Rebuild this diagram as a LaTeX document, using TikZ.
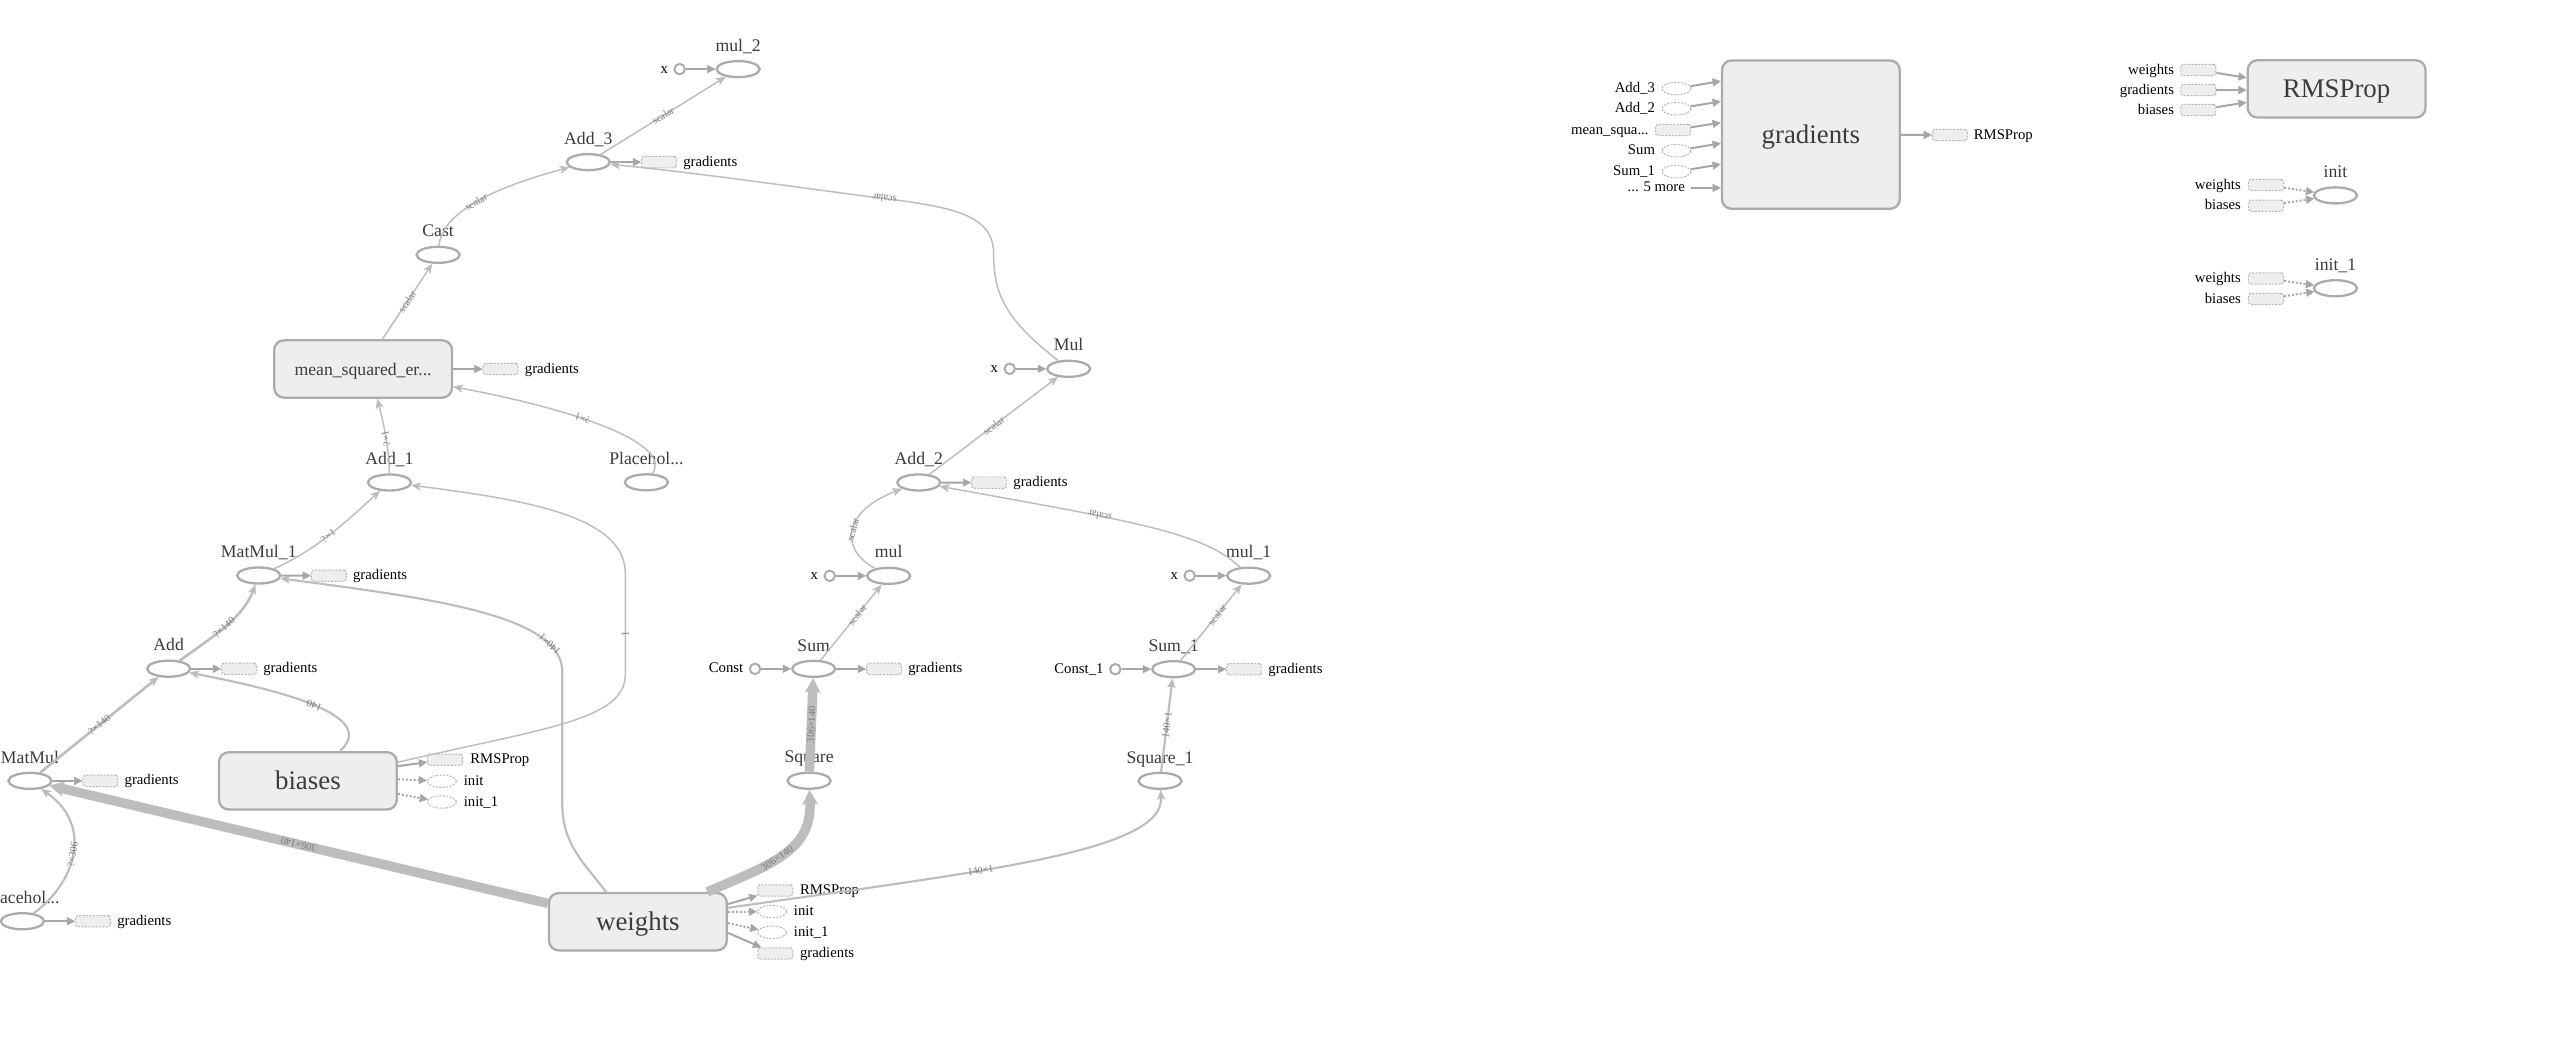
\documentclass[tikz,border=0pt]{standalone}
\usepackage{fontspec}
\setmainfont{Liberation Serif}
\usetikzlibrary{shapes.geometric,arrows.meta,calc}
\definecolor{edgecol}{HTML}{BDBDBD}
\definecolor{ringc}{HTML}{ABABAB}
\definecolor{fillc}{HTML}{EEEEEE}
\definecolor{annc}{HTML}{A6A6A6}
\definecolor{labc}{HTML}{3C3C3C}
\definecolor{elabc}{HTML}{7A7A7A}
\definecolor{dotc}{HTML}{B4B4B4}
\tikzset{
 op/.style={ellipse, draw=ringc, line width=1.4pt, minimum width=26.3pt, minimum height=9.8pt, inner sep=0pt},
 oplab/.style={anchor=base, inner sep=0pt, text=labc, font=\fontsize{10.8}{12}\selectfont},
 constc/.style={circle, draw=ringc, line width=1.2pt, minimum size=6.4pt, inner sep=0pt},
 annbox/.style={rectangle, rounded corners=1.2pt, draw=dotc, dash pattern=on 1.2pt off 0.9pt, line width=0.6pt, fill=fillc, minimum width=21.4pt, minimum height=6.9pt, inner sep=0pt},
 annell/.style={ellipse, draw=dotc, dash pattern=on 1.2pt off 0.9pt, line width=0.6pt, minimum width=17.8pt, minimum height=7.6pt, inner sep=0pt},
 anntxt/.style={inner sep=0pt, text=black, font=\fontsize{9}{10}\selectfont, text height=6.3pt, text depth=1.9pt},
 bigbox/.style={rectangle, rounded corners=6pt, draw=ringc, line width=1.4pt, fill=fillc, minimum width=108.6pt, minimum height=35pt, inner sep=0pt, text=labc, font=\fontsize{16.4}{18}\selectfont, text height=12pt, text depth=1.6pt},
 edge/.style={draw=edgecol, line width=0.9pt, -{Stealth[length=6pt,width=5pt,inset=1.5pt,line width=0.3pt]}},
 ewide/.style={edge, line width=1.3pt},
 ewider/.style={edge, line width=1.6pt},
 ethick/.style={draw=edgecol, line width=5.8pt, -{Stealth[length=9pt,width=9.5pt,inset=2pt,line width=0.3pt]}},
 ann/.style={draw=annc, line width=1.2pt, -{Triangle[length=5pt,width=5pt,line width=0.3pt]}},
 anndot/.style={ann, dash pattern=on 1.2pt off 1.2pt},
 elab/.style={sloped, allow upside down, inner sep=0.5pt, text=elabc, font=\fontsize{6.2}{6.2}\selectfont},
}
\newcommand{\opnode}[4]{%
 \node[op] (#1) at (#2,#3) {};
 \node[oplab] (#1-l) at (#2,#3-10.9) {#4};}
\newcommand{\constin}[5]{%
 \node[constc] (#1) at (#2,#3) {};
 \node[anntxt, anchor=base east] (#1-t) at (#2-7,#3+2.5) {#4};
 \draw[ann] (#1) -- (#5);}
\newcommand{\gradout}[4]{%
 \node[annbox] (#2) at (#3,#4) {};
 \node[anntxt, anchor=base west] (#2-t) at (#3+14.6,#4+2.5) {gradients};
 \draw[ann] (#1) -- (#2);}
\begin{document}
\begin{tikzpicture}[x=1pt,y=-1pt]
\fill[white] (0,0) rectangle (1568,641.7);
\useasboundingbox (0,0) rectangle (1568,641.7);

% ops
\opnode{mul2}{450.7}{42.2}{mul\_2}
\opnode{add3}{359.2}{99}{Add\_3}
\opnode{cast}{267.5}{155.6}{Cast}
\opnode{mulb}{652.5}{225.2}{Mul}
\opnode{add1}{237.8}{294.6}{Add\_1}
\opnode{pha}{394.7}{294.5}{Placehol...}
\opnode{add2}{561}{294.6}{Add\_2}
\opnode{mm1}{158}{351.4}{MatMul\_1}
\opnode{mula}{542.6}{351.6}{mul}
\opnode{mul1}{762.4}{351.5}{mul\_1}
\opnode{add}{103}{408.3}{Add}
\opnode{sum}{496.8}{408.4}{Sum}
\opnode{sum1}{716.6}{408.6}{Sum\_1}
\opnode{mm}{18.3}{476.8}{MatMul}
\opnode{sq}{494}{476.7}{Square}
\opnode{sq1}{708.3}{476.8}{Square\_1}
\opnode{phb}{13.7}{562.5}{Placehol...}
\opnode{init}{1426}{119.3}{init}
\opnode{initb}{1426}{176}{init\_1}

% big boxes
\node[bigbox, font=\fontsize{10.8}{12}\selectfont, text height=8.5pt, text depth=1.1pt] (mse) at (221.7,225.3) {mean\_squared\_er...};
\node[bigbox] (biases) at (188,476.8) {biases};
\node[bigbox] (weights) at (389.5,562.8) {weights};
\node[bigbox, minimum height=90.6pt] (grad) at (1105.7,82.2) {gradients};
\node[bigbox] (rms) at (1426.7,54.3) {RMSProp};

% constants
\constin{xa}{415}{42.2}{x}{mul2}
\constin{xb}{616.5}{225.2}{x}{mulb}
\constin{xc}{506.6}{351.6}{x}{mula}
\constin{xd}{726.4}{351.5}{x}{mul1}
\constin{cst}{461}{408.4}{Const}{sum}
\constin{cstb}{681}{408.6}{Const\_1}{sum1}

% gradients annotations
\gradout{add3}{ga}{402.4}{99}
\gradout{mse}{gb}{305.7}{225.3}
\gradout{add2}{gc}{604}{294.7}
\gradout{mm1}{gd}{200.8}{351.5}
\gradout{add}{ge}{146}{408.3}
\gradout{sum}{gf}{539.8}{408.4}
\gradout{sum1}{gg}{759.7}{408.6}
\gradout{mm}{gh}{61.3}{476.8}
\gradout{phb}{gi}{56.8}{562.5}

% biases annotations
\node[annbox] (bR) at (271.8,463.9) {};
\node[anntxt, anchor=base west] (bR-t) at (287,466.4) {RMSProp};
\node[annell] (bI) at (269.8,477) {};
\node[anntxt, anchor=base west] (bI-t) at (283,479.5) {init};
\node[annell] (bJ) at (269.8,489.7) {};
\node[anntxt, anchor=base west] (bJ-t) at (283,492.2) {init\_1};
\draw[ann] ($(biases.east)+(0,-9)$) -- (bR);
\draw[anndot] ($(biases.east)+(0,-1)$) -- (bI);
\draw[anndot] ($(biases.east)+(0,8)$) -- (bJ);

% weights annotations
\node[annbox] (wR) at (473.4,543.7) {};
\node[anntxt, anchor=base west] (wR-t) at (488.3,546.2) {RMSProp};
\node[annell] (wI) at (471.4,556.6) {};
\node[anntxt, anchor=base west] (wI-t) at (484.6,559.1) {init};
\node[annell] (wJ) at (471.4,569.3) {};
\node[anntxt, anchor=base west] (wJ-t) at (484.6,571.8) {init\_1};
\node[annbox] (wG) at (473.4,582.2) {};
\node[anntxt, anchor=base west] (wG-t) at (488.3,584.7) {gradients};
\draw[ann] ($(weights.east)+(0,-10.8)$) -- (wR);
\draw[anndot] ($(weights.east)+(0,-6)$) -- (wI);
\draw[anndot] ($(weights.east)+(0,0.9)$) -- (wJ);
\draw[ann] ($(weights.east)+(0,6.8)$) -- (wG);

% gradients block inputs / output
\node[annell] (gA3) at (1023.6,54.1) {};
\node[anntxt, anchor=base east] (gA3-t) at (1010.7,56.6) {Add\_3};
\node[annell] (gA2) at (1023.6,66.4) {};
\node[anntxt, anchor=base east] (gA2-t) at (1010.7,68.9) {Add\_2};
\node[annbox] (gM) at (1021.6,79.4) {};
\node[anntxt, anchor=base east] (gM-t) at (1006.8,81.9) {mean\_squa...};
\node[annell] (gS) at (1023.6,92) {};
\node[anntxt, anchor=base east] (gS-t) at (1010.7,94.5) {Sum};
\node[annell] (gS1) at (1023.6,104.8) {};
\node[anntxt, anchor=base east] (gS1-t) at (1010.7,107.3) {Sum\_1};
\node[anntxt, anchor=base east] (g5) at (1029,116.9) {... 5 more};
\draw[ann] (gA3) -- ($(grad.west)+(0,-32.7)$);
\draw[ann] (gA2) -- ($(grad.west)+(0,-20.3)$);
\draw[ann] (gM) -- ($(grad.west)+(0,-7.3)$);
\draw[ann] (gS) -- ($(grad.west)+(0,5.3)$);
\draw[ann] (gS1) -- ($(grad.west)+(0,18.1)$);
\draw[ann] ($(g5.east)+(3.5,0)$) -- ($(grad.west)+(0,32.5)$);
\node[annbox] (gR) at (1190.6,82.4) {};
\node[anntxt, anchor=base west] (gR-t) at (1205,84.9) {RMSProp};
\draw[ann] (grad) -- (gR);

% RMSProp block inputs
\node[annbox] (rW) at (1342.3,42.7) {};
\node[anntxt, anchor=base east] (rW-t) at (1327.6,45.2) {weights};
\node[annbox] (rG) at (1342.3,55) {};
\node[anntxt, anchor=base east] (rG-t) at (1327.6,57.5) {gradients};
\node[annbox] (rB) at (1342.3,67.2) {};
\node[anntxt, anchor=base east] (rB-t) at (1327.6,69.7) {biases};
\draw[ann] (rW) -- ($(rms.west)+(0,-6.8)$);
\draw[ann] (rG) -- ($(rms.west)+(0,0.7)$);
\draw[ann] (rB) -- ($(rms.west)+(0,8.2)$);

% init inputs
\node[annbox] (iW) at (1383.6,113) {};
\node[anntxt, anchor=base east] (iW-t) at (1368.4,115.5) {weights};
\node[annbox] (iB) at (1383.6,125.6) {};
\node[anntxt, anchor=base east] (iB-t) at (1368.4,128.1) {biases};
\draw[anndot] (iW) -- (init);
\draw[anndot] (iB) -- (init);
\node[annbox] (jW) at (1383.6,170) {};
\node[anntxt, anchor=base east] (jW-t) at (1368.4,172.5) {weights};
\node[annbox] (jB) at (1383.6,182.6) {};
\node[anntxt, anchor=base east] (jB-t) at (1368.4,185.1) {biases};
\draw[anndot] (jW) -- (initb);
\draw[anndot] (jB) -- (initb);

% main edges
\draw[edge] (add3) -- node[elab]{scalar} (mul2);
\draw[edge] (cast) .. controls (270,130) and (300,115) .. node[elab,pos=0.5]{scalar} (add3);
\draw[edge] ($(mse.north)+(11.8,0)$) -- node[elab]{scalar} (cast);
\draw[edge] (add1) .. controls (237.5,272) and (234,258) .. node[elab,pos=0.45]{?×1} ($(mse.south)+(8.7,0)$);
\draw[edge] (pha) .. controls (410,272) and (360,252) .. node[elab,pos=0.62]{?×1} ($(mse.east)+(0,10.8)$);
\draw[edge] (add2) -- node[elab]{scalar} (mulb);
\draw[edge] (mulb) .. controls (614,195) and (606.7,180) .. (606.7,155)
  .. controls (606.7,130) and (580,126) .. node[elab,pos=0.93]{scalar} (530,120)
  .. controls (470,112) and (420,105) .. (add3);
\draw[edge] (mula) .. controls (512,335) and (515,312) .. node[elab,pos=0.5]{scalar} (add2);
\draw[edge] (mul1) .. controls (735,325) and (690,318) .. node[elab,pos=0.65]{scalar} (add2);
\draw[edge] (sum) -- node[elab,pos=0.6]{scalar} (mula);
\draw[edge] (sum1) -- node[elab,pos=0.6]{scalar} (mul1);
\draw[ethick] (sq) -- node[elab]{306×140} (sum);
\draw[ewide] (sq1) -- node[elab]{140×1} (sum1);
\draw[ethick] ($(weights.north east)+(-12.6,0)$) .. controls (470,528) and (496,520) .. node[elab,pos=0.45]{306×140} (sq);
\draw[ethick] ($(weights.north west)+(0,7)$) -- node[elab]{306×140} (mm);
\draw[ewide] ($(weights.north)+(-19.4,0)$) .. controls (355,525) and (343.3,515) .. (343.3,490)
  -- (343.3,410) .. controls (343.3,375) and (260,365) .. node[elab,pos=0.18]{140×1} (mm1);
\draw[edge] ($(biases.east)+(0,-11.4)$) .. controls (330,445) and (381.8,440) .. (381.8,412)
  -- node[elab,pos=0.4]{1} (381.8,350) .. controls (381.8,315) and (320,305) .. (add1);
\draw[ewide] ($(biases.north)+(19.6,0)$) .. controls (228,440) and (190,425) .. node[elab,pos=0.55]{140} (add);
\draw[ewide] (phb) .. controls (45,540) and (58,505) .. node[elab,pos=0.5]{?×306} (mm);
\draw[ewider] (mm) -- node[elab]{?×140} (add);
\draw[ewider] (add) .. controls (128,390) and (148,378) .. node[elab,pos=0.5]{?×140} (mm1);
\draw[edge] (mm1) .. controls (195,335) and (215,315) .. node[elab,pos=0.45]{?×1} (add1);
\draw[ewide] ($(weights.east)+(0,-8.5)$) .. controls (600,532) and (711,520) .. node[elab,pos=0.38]{140×1} (sq1);
\end{tikzpicture}
\end{document}
